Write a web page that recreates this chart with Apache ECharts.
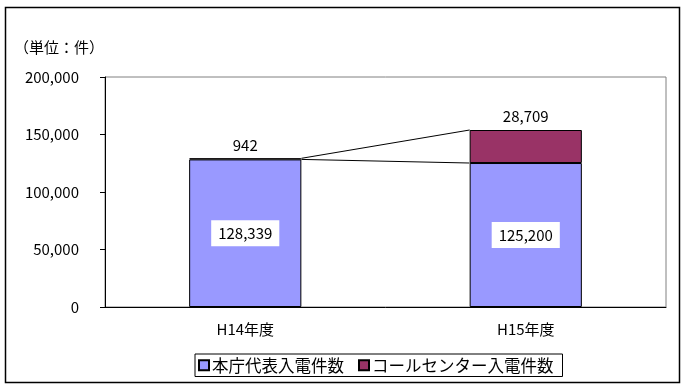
<!DOCTYPE html>
<html><head><meta charset="utf-8">
<script src="https://cdn.jsdelivr.net/npm/echarts@6/dist/echarts.min.js"></script>
<style>html,body{margin:0;padding:0;background:#fff}#c{width:688px;height:390px}</style>
</head><body><div id="c"></div>
<script>
const categories = ['H14年度', 'H15年度'];
const seriesNames = ['本庁代表入電件数', 'コールセンター入電件数'];
const hqCalls = [128339, 125200];
const centerCalls = [942, 28709];
const yTicks = [0, 50000, 100000, 150000, 200000];

const FONT = '"Noto Sans CJK JP", sans-serif';
const fmt = v => v.toLocaleString('en-US');

const chart = echarts.init(document.getElementById('c'));
const lineData = [
  [0, hqCalls[0] + centerCalls[0], 1, hqCalls[1] + centerCalls[1]],
  [0, hqCalls[0], 1, hqCalls[1]]
];
chart.setOption({
  animation: false,
  textStyle: { fontFamily: FONT, color: '#000' },
  graphic: [
    { type: 'rect', shape: { x: 5.5, y: 7.5, width: 674, height: 375 }, style: { fill: 'none', stroke: '#000', lineWidth: 1.5 }, z: 0 },
    { type: 'text', left: 14, top: 40, style: { text: '（単位：件）', font: '15px "Noto Sans CJK JP"', fill: '#000' } }
  ],
  grid: { left: 105, top: 77, width: 561, height: 230, show: true, borderColor: '#808080', borderWidth: 1, backgroundColor: 'transparent' },
  legend: {
    data: seriesNames,
    left: 195, top: 354,
    padding: [3, 9, 3, 3],
    itemGap: 14,
    itemWidth: 10, itemHeight: 10,
    icon: 'rect',
    borderColor: '#000', borderWidth: 1,
    textStyle: { fontFamily: FONT, fontSize: 16.5, color: '#000', padding: [0, 0, 0, -2] }
  },
  xAxis: {
    type: 'category', data: categories,
    axisLine: { lineStyle: { color: '#000' } },
    axisTick: { inside: true, length: 5, lineStyle: { color: '#000' } },
    axisLabel: { color: '#000', fontSize: 15, margin: 15 }
  },
  yAxis: {
    type: 'value', min: 0, max: 200000, interval: 50000,
    axisLine: { show: true, lineStyle: { color: '#000' } },
    axisTick: { show: true, length: 5, lineStyle: { color: '#000' } },
    splitLine: { show: false },
    axisLabel: { color: '#000', fontSize: 15, margin: 26, formatter: v => yTicks.includes(v) ? fmt(v) : '' }
  },
  series: [
    {
      name: seriesNames[0], type: 'bar', stack: 's', barWidth: '40%', data: hqCalls,
      itemStyle: { color: '#9999FF', borderColor: '#000', borderWidth: 1 },
      label: { show: true, position: 'inside', formatter: p => fmt(p.value), color: '#000', fontSize: 15,
        backgroundColor: '#fff', padding: [6, 7, 5, 7] }
    },
    {
      name: seriesNames[1], type: 'bar', stack: 's', barWidth: '40%', data: centerCalls,
      itemStyle: { color: '#993366', borderColor: '#000', borderWidth: 1 },
      label: { show: true, position: 'top', distance: 6, formatter: p => fmt(p.value), color: '#000', fontSize: 15 }
    },
    {
      type: 'custom', silent: true, z: 5,
      data: lineData,
      encode: { x: [0, 2], y: [1, 3] },
      renderItem: function (params, api) {
        const half = api.size([1, 0])[0] * 0.2;
        const p0 = api.coord([api.value(0), api.value(1)]);
        const p1 = api.coord([api.value(2), api.value(3)]);
        return {
          type: 'line',
          shape: { x1: p0[0] + half, y1: p0[1], x2: p1[0] - half, y2: p1[1] },
          style: { stroke: '#000', lineWidth: 1 }
        };
      }
    }
  ]
});
</script></body></html>
